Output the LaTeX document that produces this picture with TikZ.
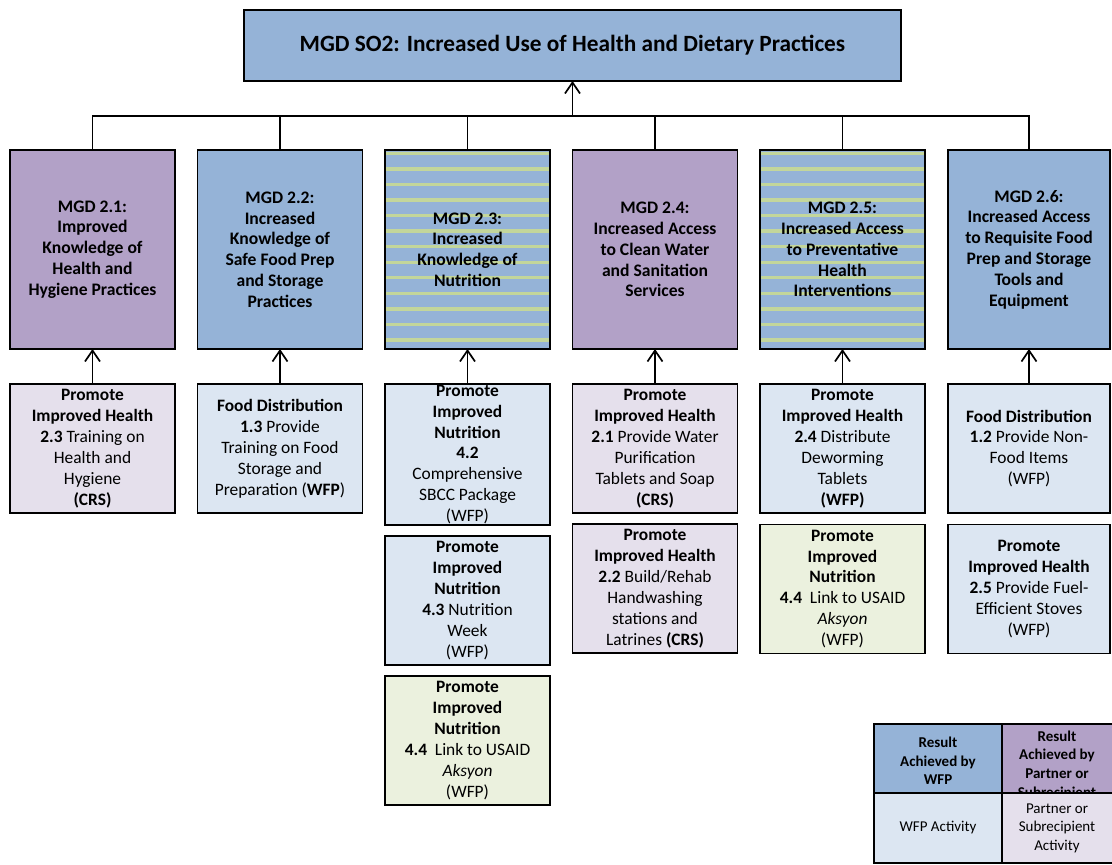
\documentclass[tikz,border=0pt]{standalone}
\usepackage{fontspec}
\setmainfont{Carlito}
\usetikzlibrary{arrows.meta}
\definecolor{mgdblue}{HTML}{95B3D7}
\definecolor{mgdpurple}{HTML}{B2A1C7}
\definecolor{actblue}{HTML}{DCE6F2}
\definecolor{actpurple}{HTML}{E5E0EC}
\definecolor{actgreen}{HTML}{EBF1DE}
\definecolor{stripe}{HTML}{C3D69B}
\begin{document}
\begin{tikzpicture}[x=1pt,y=-1pt,
  box/.style={draw=black, line width=1.5pt, inner sep=0pt, outer sep=0pt, minimum width=165pt},
  mgdbox/.style={box, minimum height=199pt},
  actbox/.style={box, minimum height=129pt},
  lgbox/.style={draw=black, line width=1.5pt, inner sep=0pt, outer sep=0pt},
  conn/.style={draw=black, line width=1.5pt},
  up/.style={conn, -{Straight Barb[length=11pt, width=15pt, line width=1.7pt]}},
  mgdtxt/.style={align=center, inner sep=0pt, font=\bfseries\fontsize{17.6}{20.8}\selectfont},
  acttxt/.style={align=center, inner sep=0pt, font=\fontsize{17.4}{20.9}\selectfont},
  legtxt/.style={align=center, inner sep=0pt, font=\fontsize{15}{18.5}\selectfont}]
\fill[white] (0,0) rectangle (1112,865);
\useasboundingbox (0,0) rectangle (1112,865);

% strategic objective
\node[box, fill=mgdblue, minimum width=657pt, minimum height=71pt] (so) at (572.5,45.5) {};
\node[inner sep=0pt, font=\bfseries\fontsize{23.3}{28}\selectfont] (sot) at (so) {MGD SO2: Increased Use of Health and Dietary Practices};

% intermediate results
\node[mgdbox, fill=mgdpurple] (m1) at (92.5,249.5) {};
\node[mgdbox, fill=mgdblue] (m2) at (280,249.5) {};
\node[mgdbox, fill=mgdblue] (m3) at (467.5,249.5) {};
\node[mgdbox, fill=mgdpurple] (m4) at (655,249.5) {};
\node[mgdbox, fill=mgdblue] (m5) at (842.5,249.5) {};
\node[mgdbox, fill=mgdblue, minimum width=162pt] (m6) at (1029,249.5) {};
\foreach \i in {0,...,12}{
  \fill[stripe] (385.75,151.6+15.56*\i) rectangle (549.25,155+15.56*\i);
  \fill[stripe] (760.75,151.6+15.56*\i) rectangle (924.25,155+15.56*\i);
}
\node[mgdtxt] (m1t) at (m1) {MGD 2.1:\\Improved\\Knowledge of\\Health and\\Hygiene Practices};
\node[mgdtxt] (m2t) at (m2) {MGD 2.2:\\Increased\\Knowledge of\\Safe Food Prep\\and Storage\\Practices};
\node[mgdtxt] (m3t) at (m3) {MGD 2.3:\\Increased\\Knowledge of\\Nutrition};
\node[mgdtxt] (m4t) at (m4) {MGD 2.4:\\Increased Access\\to Clean Water\\and Sanitation\\Services};
\node[mgdtxt] (m5t) at (m5) {MGD 2.5:\\Increased Access\\to Preventative\\Health\\Interventions};
\node[mgdtxt] (m6t) at (m6) {MGD 2.6:\\Increased Access\\to Requisite Food\\Prep and Storage\\Tools and\\Equipment};

% tree to the strategic objective
\coordinate (j) at (572.5,116);
\draw[conn] (m1.north) -- (m1.north |- j) -- (m6.north |- j) -- (m6.north);
\foreach \m in {m2,m3,m4,m5}{\draw[conn] (\m.north) -- (\m.north |- j);}
\draw[up] (j) -- (so.south);

% activities
\node[actbox, fill=actpurple] (a1) at (92.5,448.5) {};
\node[actbox, fill=actblue] (a2) at (280,448.5) {};
\node[actbox, fill=actblue, minimum height=141pt] (a3a) at (467.5,454.5) {};
\node[actbox, fill=actblue] (a3b) at (467.5,600.5) {};
\node[actbox, fill=actgreen] (a3c) at (467.5,740.5) {};
\node[actbox, fill=actpurple] (a4a) at (655,448.5) {};
\node[actbox, fill=actpurple] (a4b) at (655,588.5) {};
\node[actbox, fill=actblue] (a5a) at (842.5,448.5) {};
\node[actbox, fill=actgreen] (a5b) at (842.5,589) {};
\node[actbox, fill=actblue, minimum width=162pt] (a6a) at (1029,448.5) {};
\node[actbox, fill=actblue, minimum width=162pt] (a6b) at (1029,589) {};

\node[acttxt] (a1t) at (a1) {\textbf{Promote}\\\textbf{Improved Health}\\\textbf{2.3} Training on\\Health and\\Hygiene\\\textbf{(CRS)}};
\node[acttxt] (a2t) at (a2) {\textbf{Food Distribution}\\\textbf{1.3} Provide\\Training on Food\\Storage and\\Preparation (\textbf{WFP})};
\node[acttxt] (a3at) at (a3a) {\textbf{Promote}\\\textbf{Improved}\\\textbf{Nutrition}\\\textbf{4.2}\\Comprehensive\\SBCC Package\\(WFP)};
\node[acttxt] (a3bt) at (a3b) {\textbf{Promote}\\\textbf{Improved}\\\textbf{Nutrition}\\\textbf{4.3} Nutrition\\Week\\(WFP)};
\node[acttxt] (a3ct) at (a3c) {\textbf{Promote}\\\textbf{Improved}\\\textbf{Nutrition}\\\textbf{4.4}\ \ Link to USAID\\\textit{Aksyon}\\(WFP)};
\node[acttxt] (a4at) at (a4a) {\textbf{Promote}\\\textbf{Improved Health}\\\textbf{2.1} Provide Water\\Purification\\Tablets and Soap\\\textbf{(CRS)}};
\node[acttxt] (a4bt) at (a4b) {\textbf{Promote}\\\textbf{Improved Health}\\\textbf{2.2} Build/Rehab\\Handwashing\\stations and\\Latrines \textbf{(CRS)}};
\node[acttxt] (a5at) at (a5a) {\textbf{Promote}\\\textbf{Improved Health}\\\textbf{2.4} Distribute\\Deworming\\Tablets\\\textbf{(WFP)}};
\node[acttxt] (a5bt) at (a5b) {\textbf{Promote}\\\textbf{Improved}\\\textbf{Nutrition}\\\textbf{4.4}\ \ Link to USAID\\\textit{Aksyon}\\(WFP)};
\node[acttxt] (a6at) at (a6a) {\textbf{Food Distribution}\\\textbf{1.2} Provide Non-\\Food Items\\(WFP)};
\node[acttxt] (a6bt) at (a6b) {\textbf{Promote}\\\textbf{Improved Health}\\\textbf{2.5} Provide Fuel-\\Efficient Stoves\\(WFP)};

% activities feed their results
\draw[up] (a1.north) -- (m1.south);
\draw[up] (a2.north) -- (m2.south);
\draw[up] (a3a.north) -- (m3.south);
\draw[up] (a4a.north) -- (m4.south);
\draw[up] (a5a.north) -- (m5.south);
\draw[up] (a6a.north) -- (m6.south);

% legend
\node[lgbox, fill=mgdblue, minimum width=128pt, minimum height=69pt] (l1) at (938,758.5) {};
\node[lgbox, fill=mgdpurple, minimum width=112pt, minimum height=69pt] (l2) at (1058,758.5) {};
\node[legtxt, font=\bfseries\fontsize{15}{18.5}\selectfont] (l1t) at (938,761) {Result\\Achieved by\\WFP};
\node[legtxt, font=\bfseries\fontsize{15}{18.7}\selectfont] (l2t) at (1057,765) {Result\\Achieved by\\Partner or\\Subrecipient};
\node[lgbox, fill=actblue, minimum width=128pt, minimum height=70pt] (l3) at (938,828) {};
\node[lgbox, fill=actpurple, minimum width=112pt, minimum height=70pt] (l4) at (1058,828) {};
\node[legtxt] (l3t) at (l3) {WFP Activity};
\node[legtxt] (l4t) at (1057,828) {Partner or\\Subrecipient\\Activity};
\end{tikzpicture}
\end{document}
